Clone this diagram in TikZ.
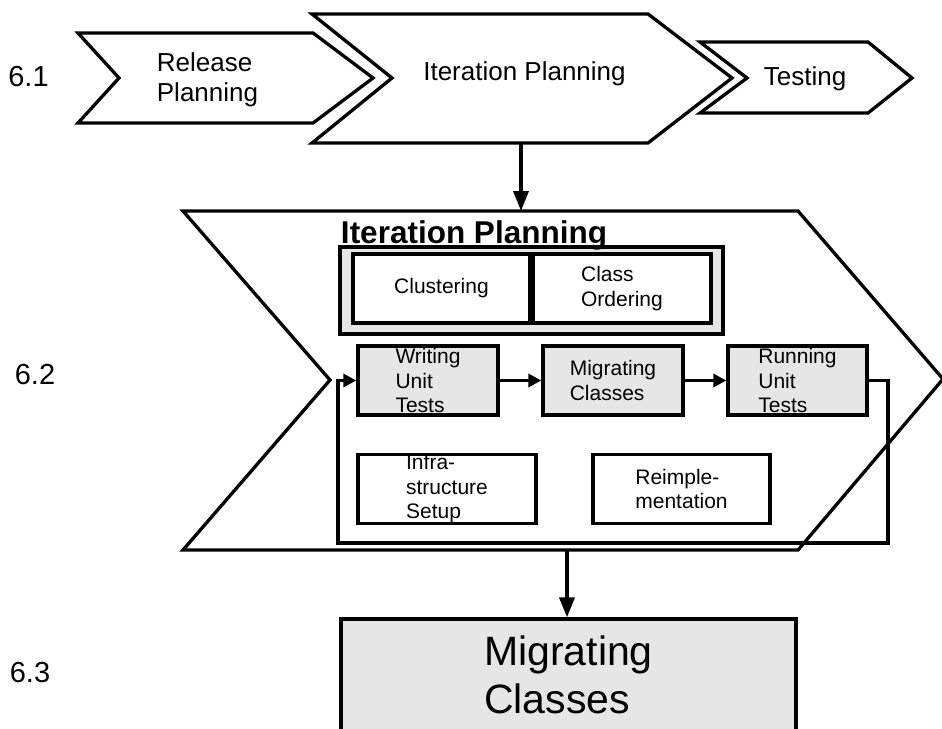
\documentclass[tikz,border=0pt]{standalone}
\usepackage{fontspec}
\setmainfont{Liberation Sans}
\usetikzlibrary{arrows.meta}
\definecolor{boxgrey}{RGB}{230,230,230}
\begin{document}
\begin{tikzpicture}[x=1pt,y=-1pt,
  outline/.style={draw=black,line width=3.3pt,line join=miter,fill=white},
  arr/.style={draw=black,line width=3.3pt,-{Triangle[length=13pt,width=13pt]}},
  downarr/.style={draw=black,line width=3.6pt,-{Triangle[length=20pt,width=15pt]}},
  task/.style={draw=black,line width=3.3pt,inner sep=0pt,align=left,
    font=\fontsize{21}{24.5}\selectfont},
  greytask/.style={task,fill=boxgrey,minimum width=140pt,minimum height=69pt},
  whitetask/.style={task,fill=white,minimum width=178pt,minimum height=69pt},
  phase/.style={font=\fontsize{26}{30}\selectfont,align=left,inner sep=0pt},
  level/.style={font=\fontsize{29}{32}\selectfont,inner sep=0pt}
]
\useasboundingbox (0,0) rectangle (942,728);

% section numbers
\node[level] (l61) at (28.5,77) {6.1};
\node[level] (l62) at (35,374.5) {6.2};
\node[level] (l63) at (30,673) {6.3};

% phase chevrons
\draw[outline] (78,33) -- (313,33) -- (373,78) -- (313,123) -- (78,123) -- (119,78) -- cycle;
\draw[outline] (312,14) -- (648,14) -- (732,78) -- (648,143) -- (312,143) -- (392,78) -- cycle;
\draw[outline] (700,42) -- (868,42) -- (912,78) -- (868,113) -- (700,113) -- (747,78) -- cycle;
\node[phase] (rp) at (207.5,80) {Release\\Planning};
\node[phase,anchor=base] (ip) at (524.5,80) {Iteration Planning};
\node[phase,anchor=base] (te) at (805,85) {Testing};

% expanded iteration chevron
\draw[outline] (183,211) -- (798,211) -- (943,379) -- (798,550) -- (183,550) -- (330,380) -- cycle;
\coordinate (ipBot) at (521,143);
\coordinate (bigTop) at (521,211);
\draw[downarr] (ipBot) -- (bigTop);

% title and planning group
\node[draw=black,line width=3.3pt,fill=boxgrey,minimum width=383pt,minimum height=87pt,inner sep=0pt]
  (grp) at (531.5,290.5) {};
\node[font=\fontsize{31.5}{34}\selectfont\bfseries,inner sep=0pt,anchor=base] (ttl) at (474,243) {Iteration Planning};
\draw[line width=2.5pt] ([yshift=-3pt]ttl.base west) -- ([yshift=-3pt]ttl.base east);
\node[task,fill=white,minimum width=177pt,minimum height=69pt] (clu) at (441.5,288.5) {Clustering};
\node[task,fill=white,minimum width=178pt,minimum height=69pt] (cor) at (622,288.5) {Class\\Ordering};

% migration steps
\node[greytask] (wut) at (428,380.5) {Writing\\Unit\\Tests};
\node[greytask] (mig) at (613,380.5) {Migrating\\Classes};
\node[greytask,minimum width=139pt] (rut) at (797.5,380.5) {Running\\Unit\\Tests};
\node[whitetask] (inf) at (447,489) {Infra-\\structure\\Setup};
\node[whitetask,minimum width=177pt] (rei) at (681.5,489) {Reimple-\\mentation};

\draw[arr] (wut) -- (mig);
\draw[arr] (mig) -- (rut);
\coordinate (loopR) at (888,543);
\coordinate (loopL) at (338,543);
\draw[arr] (rut.east) -| (loopR) -- (loopL) |- (wut.west);

% resulting activity
\node[draw=black,line width=3.3pt,fill=boxgrey,minimum width=455pt,minimum height=112pt,inner sep=0pt,
  align=left,font=\fontsize{41}{48}\selectfont] (mc) at (568.5,675) {Migrating\\Classes};
\coordinate (bigBot) at (567,550);
\draw[downarr] (bigBot) -- (bigBot |- mc.north);
\end{tikzpicture}
\end{document}
